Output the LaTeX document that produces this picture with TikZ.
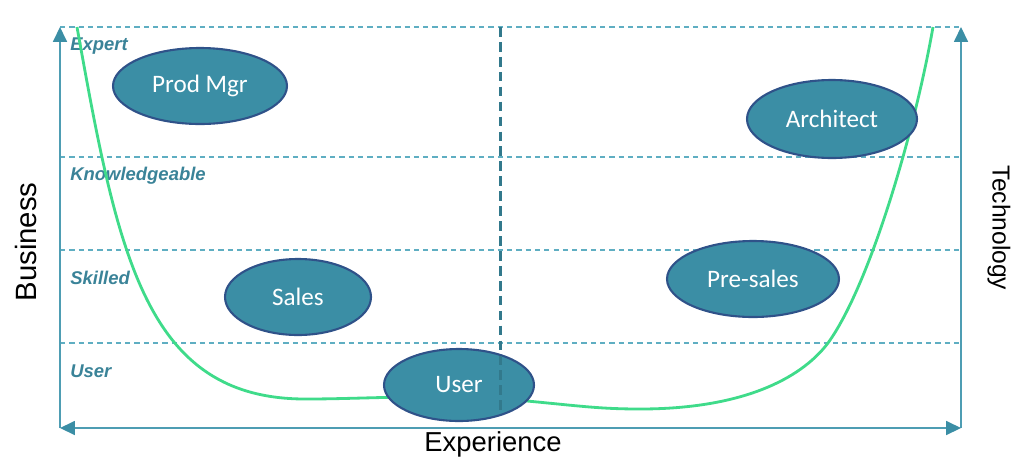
\documentclass[tikz,border=0pt]{standalone}
\usepackage{fontspec}
\setmainfont{Liberation Sans}
\newfontfamily\calib{Carlito}
\usetikzlibrary{arrows.meta,shapes.geometric}
\definecolor{axisc}{HTML}{4E9DB3}
\definecolor{tealf}{HTML}{3B8EA5}
\definecolor{rimc}{HTML}{2F5289}
\definecolor{greenc}{HTML}{3FDB8A}
\definecolor{gridc}{HTML}{5FAEC2}
\definecolor{labc}{HTML}{3A8398}
\tikzset{
  role/.style={ellipse, fill=tealf, draw=rimc, line width=1.2pt, text=white, font=\calib\fontsize{14.3}{16}\selectfont, inner sep=0pt},
  axisline/.style={draw=axisc, line width=0.8pt},
  tip/.style={-{Triangle[length=8.5pt,width=8pt,fill=tealf,color=tealf]}},
  grid/.style={draw=gridc, line width=0.6pt, dash pattern=on 3pt off 2.3pt},
  level/.style={anchor=west, text=labc, font=\bfseries\itshape\fontsize{10.5}{12}\selectfont, inner sep=0pt},
  axislabel/.style={text=black, inner sep=0pt},
}
\begin{document}
\begin{tikzpicture}[x=0.02cm,y=-0.02cm]
\useasboundingbox (0,0) rectangle (1024,474);
% corners
\coordinate (bl) at (60,428);
\coordinate (br) at (961,428);
\coordinate (tl) at (60,27);
\coordinate (tr) at (961,27);
% grid lines
\coordinate (g1l) at (60,27);  \coordinate (g1r) at (961,27);
\coordinate (g2l) at (60,157); \coordinate (g2r) at (961,157);
\coordinate (g3l) at (60,250); \coordinate (g3r) at (961,250);
\coordinate (g4l) at (60,343); \coordinate (g4r) at (961,343);
\draw[grid] (g1l) -- (g1r);
\draw[grid] (g2l) -- (g2r);
\draw[grid] (g3l) -- (g3r);
\draw[grid] (g4l) -- (g4r);
% axes
\draw[axisline, tip] (bl) -- (tl);
\draw[axisline, tip] (br) -- (tr);
\draw[axisline, {Triangle[length=8.5pt,width=8pt,fill=tealf,color=tealf]}-{Triangle[length=8.5pt,width=8pt,fill=tealf,color=tealf]}] (bl) -- (br);
% level labels
\node[level] (lexp) at (70,46) {Expert};
\node[level] (lkno) at (70,176) {Knowledgeable};
\node[level] (lski) at (70,278) {Skilled};
\node[level] (luse) at (70,371) {User};
% curve
\coordinate (c0) at (77,27);
\coordinate (c1) at (307,399);
\coordinate (c2) at (527,401);
\coordinate (c3) at (640,409);
\coordinate (c4) at (828,343);
\coordinate (c5) at (933,27);
\draw[greenc, line width=1.6pt] (c0) .. controls (118,255) and (145,400) .. (c1)
  .. controls (370,399) and (440,393) .. (c2)
  .. controls (580,406) and (600,409) .. (c3)
  .. controls (740,409) and (800,380) .. (c4)
  .. controls (870,285) and (915,130) .. (c5);
% roles
\node[role, minimum width=3.48cm, minimum height=1.52cm] (pm) at (200,86) {Prod Mgr};
\node[role, minimum width=3.40cm, minimum height=1.56cm] (arch) at (832,119) {Architect};
\node[role, minimum width=2.92cm, minimum height=1.52cm] (sales) at (298,297) {Sales};
\node[role, minimum width=3.44cm, minimum height=1.52cm] (pre) at (753,279) {Pre-sales};
\node[role, minimum width=3.00cm, minimum height=1.44cm] (user) at (459,385) {User};
% divider
\coordinate (dtop) at (500,27);
\coordinate (dbot) at (500,410);
\draw[draw=tealf!85!black, line width=1.7pt, dash pattern=on 5.5pt off 3pt] (dtop) -- (dbot);
% axis labels
\node[axislabel, rotate=90, font=\fontsize{16.7}{18}\selectfont] (biz) at (26,242) {Business};
\node[axislabel, rotate=-90, font=\fontsize{14}{16}\selectfont] (tech) at (999,228) {Technology};
\node[axislabel, font=\fontsize{15.6}{18}\selectfont] (exp) at (493,444) {Experience};
\end{tikzpicture}
\end{document}
